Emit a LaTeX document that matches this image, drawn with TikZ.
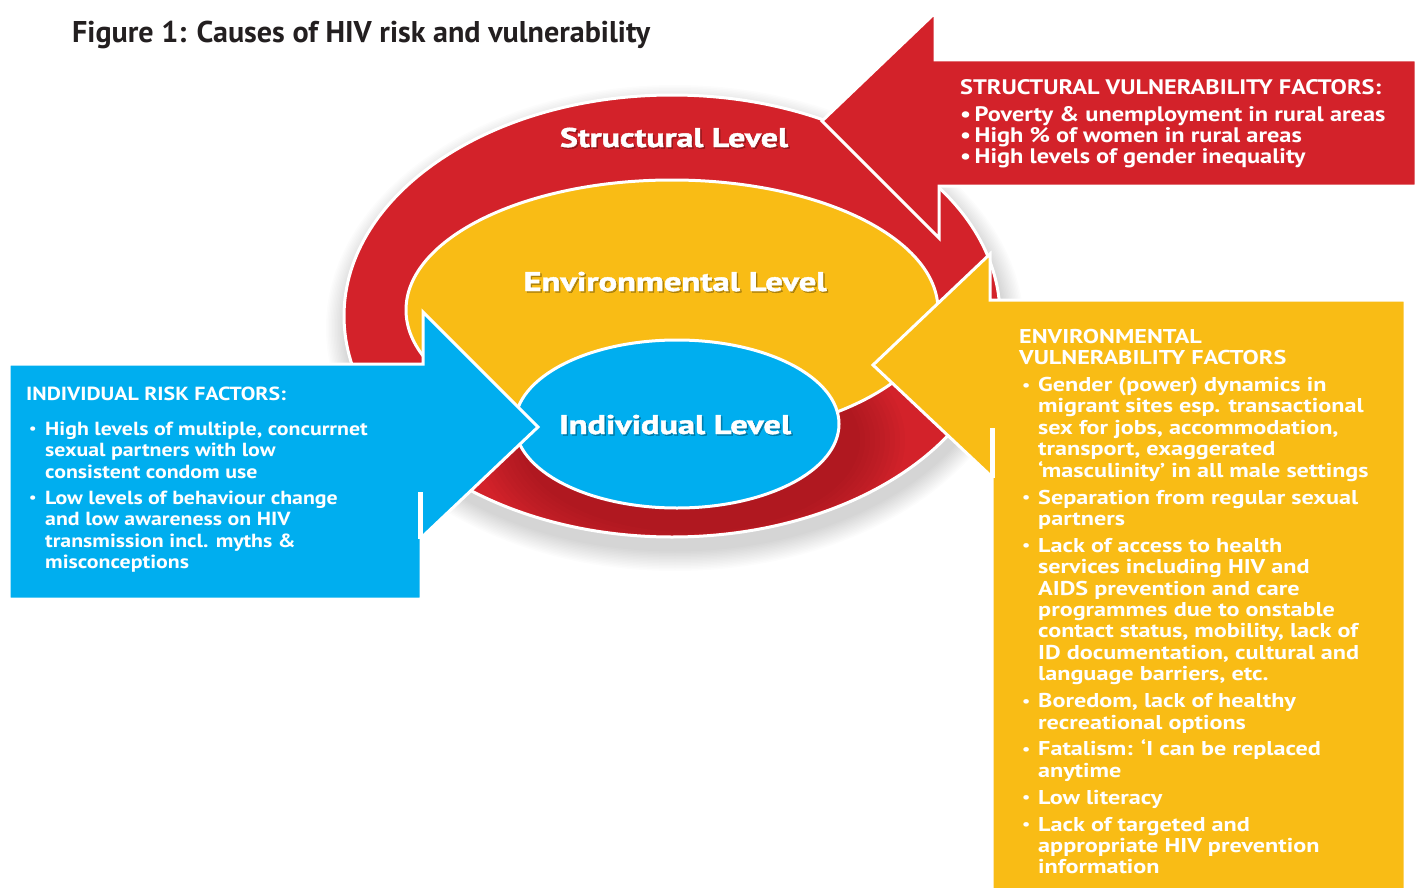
\documentclass[tikz,border=0pt]{standalone}
\usepackage{fontspec}
\usepackage{graphicx}
\setmainfont{PT Sans}
\newfontfamily\heavyfam{PT Sans}[BoldFeatures={FakeBold=1.5}]
\newfontfamily\redfam{PT Sans}[FakeStretch=1.16]
\newfontfamily\bluefam{PT Sans}[FakeStretch=1.15]
\newfontfamily\yelfam{PT Sans}[FakeStretch=1.21]

\definecolor{redc}{HTML}{D3222A}
\definecolor{yelc}{HTML}{F9BC15}
\definecolor{bluec}{HTML}{00AEEF}
\definecolor{titlec}{HTML}{231F20}

% scale a line horizontally to a given width (in pt)
\newsavebox\fitbox
\newlength\fitlen
\newcommand\hfit[2]{\sbox\fitbox{#2}\setlength\fitlen{\wd\fitbox}%
  \pgfmathsetmacro\fitratio{#1/\fitlen}\scalebox{\fitratio}[1]{\usebox\fitbox}}

\newcommand\smallbullet{\raisebox{0.15ex}{\scalebox{0.75}{\textbullet}}}
\newcommand\bitem{\par\noindent\hangindent=19pt\hangafter=1\makebox[19pt][l]{\hspace{3pt}\smallbullet}}
\newcommand\boxsetup[3]{\fontsize{#1}{#2}\selectfont\bfseries
  \parindent=0pt\parskip=#3pt\rightskip=0pt plus 1fil\relax}

\tikzset{
  ring/.style={draw=white, line width=3pt},
  blockarrow/.style={draw=white, line width=3pt, line join=miter},
  gap/.style={white, line width=5pt},
  lvltext/.style={inner sep=0pt, anchor=base, text=white},
  lvlshadow/.style={inner sep=0pt, anchor=base, text=black, opacity=0.25},
  boxtext/.style={inner sep=0pt, anchor=north west, text=white},
}

\newcommand\lvl[4]{% name, x, y, width
  \node[lvlshadow] at (#2+1.5,#3+1.5) {\heavyfam\bfseries\fontsize{27}{27}\selectfont\hfit{#4}{\lvllabel}};
  \node[lvltext] (#1) at (#2,#3) {\heavyfam\bfseries\fontsize{27}{27}\selectfont\hfit{#4}{\lvllabel}};}

\begin{document}
\begin{tikzpicture}[x=1pt,y=-1pt]
\useasboundingbox (0,0) rectangle (1418,888);
\fill[white] (0,0) rectangle (1418,888);

% soft shadow around the outer ellipse
\foreach \k in {1,...,14}
  \fill[black, opacity=0.012] (675,328) ellipse [x radius={328pt+\k*1.5pt}, y radius={222pt+\k*1.5pt}];

% structural level (outer ring)
\path[fill=redc, ring] (672,316) ellipse [x radius=328pt, y radius=221pt];
\begin{scope}
  \clip (672,316) ellipse [x radius=326pt, y radius=219pt];
  \foreach \k in {0,...,9}
    \fill[black, opacity=0.017] (690,440) ellipse [x radius={170pt+\k*5pt}, y radius={92pt+\k*4pt}];
\end{scope}

% environmental level
\path[fill=yelc, ring] (672,310) ellipse [x radius=266pt, y radius=130pt];

% individual level
\path[fill=bluec, ring] (677,424) ellipse [x radius=162pt, y radius=84pt];

% factor arrows
\path[fill=redc, blockarrow] (1416,60) -- (935,60) -- (935,13) -- (822,121)
  -- (939,238) -- (939,186) -- (1416,186) -- cycle;
\path[fill=yelc, blockarrow] (1405,300) -- (990,300) -- (990,254) -- (873,365)
  -- (992,477) -- (992,892) -- (1405,892) -- cycle;
\draw[gap] (992,428) -- (992,478);
\path[fill=bluec, blockarrow] (9,364) -- (423,364) -- (423,312) -- (538,427)
  -- (421,538) -- (421,599) -- (9,599) -- cycle;
\draw[gap] (420,492) -- (420,539);

% title
\node[inner sep=0pt, anchor=base west, text=titlec] (title) at (72,43)
  {\bfseries\fontsize{30}{32}\selectfont\hfit{578}{Figure 1: Causes of HIV risk and vulnerability}};

% level labels
\def\lvllabel{Structural Level}\lvl{structural}{674}{147}{228}
\def\lvllabel{Environmental Level}\lvl{environmental}{675}{291}{303}
\def\lvllabel{Individual Level}\lvl{individual}{675}{434}{232}

% structural factors
\node[boxtext] (structfactors) at (960,79) {\begin{minipage}{455pt}\redfam\boxsetup{21}{21}{0}%
\rule{0pt}{15pt}STRUCTURAL VULNERABILITY FACTORS:\par\vspace{6pt}
\textbullet\,Poverty \& unemployment in rural areas\newline
\textbullet\,High \% of women in rural areas\newline
\textbullet\,High levels of gender inequality\par
\end{minipage}};

% individual factors
\node[boxtext] (indivfactors) at (26,385) {\begin{minipage}{385pt}\bluefam\boxsetup{19}{21.4}{5}%
\rule{0pt}{15pt}INDIVIDUAL RISK FACTORS:\par\vspace{8.6pt}
\bitem High levels of multiple, concurrnet\newline sexual partners with low\newline consistent condom use
\bitem Low levels of behaviour change\newline and low awareness on HIV\newline transmission incl. myths \&\newline misconceptions\par
\end{minipage}};

% environmental factors
\node[boxtext] (envfactors) at (1019,328) {\begin{minipage}{380pt}\yelfam\boxsetup{20}{21.4}{5.5}%
\rule{0pt}{15pt}ENVIRONMENTAL\newline VULNERABILITY FACTORS
\bitem Gender (power) dynamics in\newline migrant sites esp. transactional\newline sex for jobs, accommodation,\newline transport, exaggerated\newline ‘masculinity’ in all male settings
\bitem Separation from regular sexual\newline partners
\bitem Lack of access to health\newline services including HIV and\newline AIDS prevention and care\newline programmes due to onstable\newline contact status, mobility, lack of\newline ID documentation, cultural and\newline language barriers, etc.
\bitem Boredom, lack of healthy\newline recreational options
\bitem Fatalism: ‘I can be replaced\newline anytime
\bitem Low literacy
\bitem Lack of targeted and\newline appropriate HIV prevention\newline information\par
\end{minipage}};
\end{tikzpicture}
\end{document}
